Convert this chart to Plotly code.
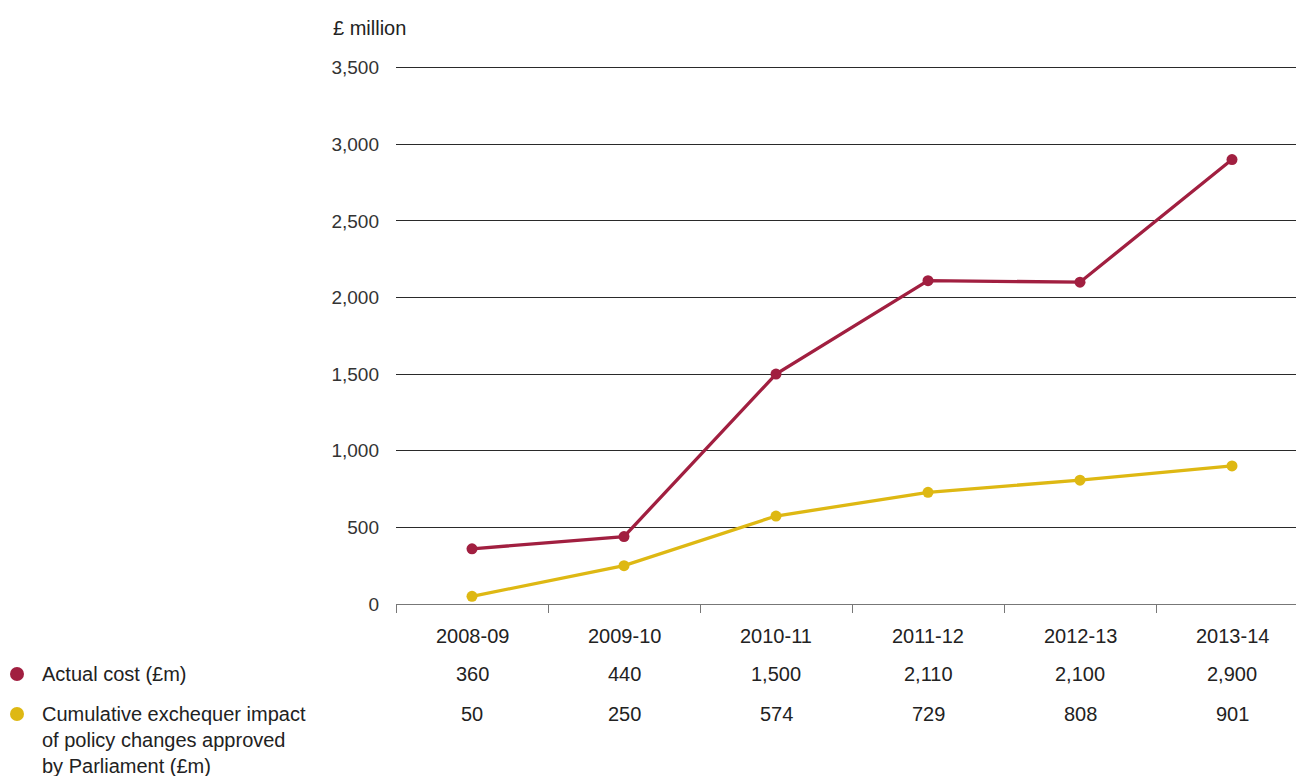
import plotly.graph_objects as go

categories = ["2008-09", "2009-10", "2010-11", "2011-12", "2012-13", "2013-14"]
actual_cost = [360, 440, 1500, 2110, 2100, 2900]
cumulative_impact = [50, 250, 574, 729, 808, 901]
actual_labels = ["360", "440", "1,500", "2,110", "2,100", "2,900"]
impact_labels = ["50", "250", "574", "729", "808", "901"]
y_ticks = [0, 500, 1000, 1500, 2000, 2500, 3000, 3500]
y_tick_text = ["0", "500", "1,000", "1,500", "2,000", "2,500", "3,000", "3,500"]
series_names = ["Actual cost (£m)",
                ["Cumulative exchequer impact", "of policy changes approved", "by Parliament (£m)"]]

RED = "#a11f40"
YELLOW = "#deb813"
FONT = "Liberation Sans"
TXT = "#222222"
FS = 20

W, H = 1296, 776
L, R, T, B = 396, 0, 66, 172
pw = W - L - R
ph = H - T - B
YMAX = 3500 * 1.003

def px_x(p):
    return (p - L) / pw

def px_y(p):
    return (H - B - p) / ph

xs = list(range(len(categories)))
fig = go.Figure()
fig.add_trace(go.Scatter(x=xs, y=cumulative_impact, mode="lines+markers",
                         line=dict(color=YELLOW, width=3.3), marker=dict(size=11, color=YELLOW),
                         showlegend=False, cliponaxis=False))
fig.add_trace(go.Scatter(x=xs, y=actual_cost, mode="lines+markers",
                         line=dict(color=RED, width=3.3), marker=dict(size=11, color=RED),
                         showlegend=False, cliponaxis=False))

def tfont():
    return dict(family=FONT, size=FS, color=TXT)

ann = []
for i, c in enumerate(categories):
    ann.append(dict(x=i, y=px_y(636), xref="x", yref="paper", text=c, showarrow=False,
                    xanchor="center", yanchor="middle", font=tfont()))
    ann.append(dict(x=i, y=px_y(674), xref="x", yref="paper", text=actual_labels[i], showarrow=False,
                    xanchor="center", yanchor="middle", font=tfont()))
    ann.append(dict(x=i, y=px_y(714), xref="x", yref="paper", text=impact_labels[i], showarrow=False,
                    xanchor="center", yanchor="middle", font=tfont()))

ann.append(dict(x=px_x(331), y=px_y(28), xref="paper", yref="paper", text="£ million", showarrow=False,
                xanchor="left", yanchor="middle", font=tfont()))

ann.append(dict(x=px_x(40), y=px_y(674), xref="paper", yref="paper", text=series_names[0], showarrow=False,
                xanchor="left", yanchor="middle", font=tfont()))
for j, line in enumerate(series_names[1]):
    ann.append(dict(x=px_x(40), y=px_y(714 + 26 * j), xref="paper", yref="paper", text=line, showarrow=False,
                    xanchor="left", yanchor="middle", font=tfont()))

shapes = []
for yy, col in [(674, RED), (714, YELLOW)]:
    shapes.append(dict(type="circle", xref="paper", yref="paper", xsizemode="pixel", ysizemode="pixel",
                       xanchor=px_x(17), yanchor=px_y(yy), x0=-7, x1=7, y0=-7, y1=7,
                       fillcolor=col, line=dict(width=0)))

fig.update_layout(
    width=W, height=H,
    margin=dict(l=L, r=R, t=T, b=B, pad=0),
    paper_bgcolor="white", plot_bgcolor="white",
    font=dict(family=FONT, size=FS, color=TXT),
    annotations=ann, shapes=shapes,
    xaxis=dict(range=[-0.5, -0.5 + pw / 152.0], tickmode="array",
               tickvals=[i - 0.5 for i in range(len(categories) + 1)],
               ticktext=[""] * (len(categories) + 1),
               ticks="outside", ticklen=8, tickcolor="#777777", tickwidth=1.2,
               showline=True, linecolor="#777777", linewidth=1.2,
               showgrid=False, zeroline=False, fixedrange=True),
    yaxis=dict(range=[0, YMAX], tickmode="array", tickvals=y_ticks, ticktext=y_tick_text,
               showgrid=True, gridcolor="#2a2a2a", gridwidth=1, zeroline=False,
               showline=False, ticks="", ticklabelstandoff=16,
               tickfont=dict(family=FONT, size=19, color="#333333"), fixedrange=True),
)

fig.write_html("out.html", config={"displayModeBar": False},
               post_script="document.body.style.margin='0';document.body.style.overflow='hidden';")
